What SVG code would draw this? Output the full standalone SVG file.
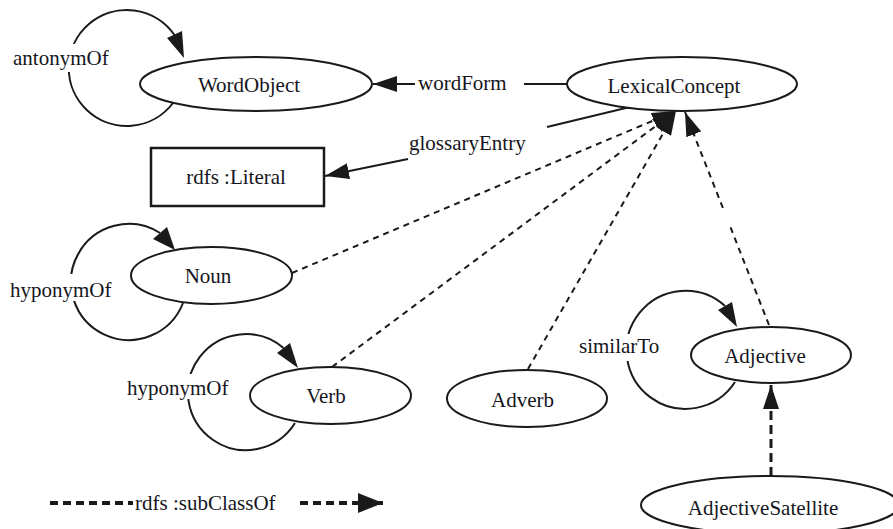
<svg xmlns="http://www.w3.org/2000/svg" width="893" height="529" viewBox="0 0 893 529">
<style>
  text { font-family: "Liberation Serif", "DejaVu Serif", serif; font-size: 21px; fill: #151520; }
  .n { text-anchor: middle; }
  .shape { fill: #fff; stroke: #1a1a1a; stroke-width: 2; }
  .edge { fill: none; stroke: #1a1a1a; stroke-width: 2; }
  .sub { fill: none; stroke: #1a1a1a; stroke-width: 2; stroke-dasharray: 6 5; }
  .sub2 { fill: none; stroke: #1a1a1a; stroke-width: 3; stroke-dasharray: 9 5; }
  .head { fill: #1a1a1a; stroke: none; }
  .bg { fill: #fff; stroke: none; }
</style>
<defs>
  <marker id="arr" markerUnits="userSpaceOnUse" markerWidth="26" markerHeight="18" refX="24" refY="8" orient="auto">
    <path d="M0,0 L24,8 L0,16 Z" class="head"/>
  </marker>
  <marker id="arrL" markerUnits="userSpaceOnUse" markerWidth="27" markerHeight="22" refX="25" refY="10" orient="auto">
    <path d="M0,0 L25,10 L0,20 Z" class="head"/>
  </marker>
</defs>
<rect width="893" height="529" fill="#fff"/>

<g id="connectors">
  <path class="edge" d="M173,103 A58,58 0 1 1 174.5,35"/>
  <polygon class="head" points="167,38 182,31 184,58"/>
  <path class="edge" d="M183,303 A58,58 0 1 1 160,233"/>
  <polygon class="head" points="153,239 167,227 175,250"/>
  <path class="edge" d="M295,423 A58,58 0 1 1 283.5,348"/>
  <polygon class="head" points="277,353 290,343 298,368"/>
  <path class="edge" d="M735,382 A59,59 0 1 1 725,306"/>
  <polygon class="head" points="718,310 732,302 737,327"/>
  <line class="edge" x1="568" y1="84" x2="524" y2="84"/>
  <line class="edge" x1="415" y1="84" x2="373" y2="84" marker-end="url(#arr)"/>
  <line class="edge" x1="630" y1="107" x2="547" y2="127"/>
  <line class="edge" x1="408" y1="159" x2="325" y2="176" marker-end="url(#arr)"/>
  <line class="sub" x1="292" y1="273" x2="676" y2="111" marker-end="url(#arr)"/>
  <line class="sub" x1="332" y1="367" x2="676" y2="111" marker-end="url(#arr)"/>
  <line class="sub" x1="528" y1="369" x2="676" y2="111" marker-end="url(#arr)"/>
  <line class="sub" x1="769" y1="325" x2="730.4" y2="227"/>
  <line class="sub" x1="722.9" y1="208" x2="685" y2="112" marker-end="url(#arr)"/>
  <line class="sub2" x1="771" y1="476" x2="771" y2="385" marker-end="url(#arr)"/>
</g>

<g id="labels">
  <rect class="bg" x="12" y="44" width="104" height="28"/>
  <text x="13" y="65">antonymOf</text>
  <rect class="bg" x="9" y="274" width="109" height="27"/>
  <text x="10" y="297">hyponymOf</text>
  <rect class="bg" x="126" y="374" width="108" height="25"/>
  <text x="127" y="395">hyponymOf</text>
  <rect class="bg" x="578" y="334" width="88" height="27"/>
  <text x="579" y="353">similarTo</text>
  <text x="418" y="90">wordForm</text>
  <text x="409" y="150">glossaryEntry</text>
</g>

<g id="WordObject">
  <ellipse class="shape" cx="256" cy="84" rx="116" ry="27"/>
  <text class="n" x="249" y="92">WordObject</text>
</g>
<g id="LexicalConcept">
  <ellipse class="shape" cx="682" cy="84" rx="115" ry="27"/>
  <text class="n" x="674" y="93">LexicalConcept</text>
</g>
<g id="rdfsLiteral">
  <rect class="shape" x="151" y="148" width="173" height="58" style="stroke-width:2.5"/>
  <text class="n" x="236" y="184">rdfs :Literal</text>
</g>
<g id="Noun">
  <ellipse class="shape" cx="211.5" cy="275.5" rx="80.5" ry="28.5"/>
  <text class="n" x="208" y="283">Noun</text>
</g>
<g id="Verb">
  <ellipse class="shape" cx="330.5" cy="395.5" rx="80.5" ry="28.5"/>
  <text class="n" x="326" y="403">Verb</text>
</g>
<g id="Adverb">
  <ellipse class="shape" cx="527" cy="398.5" rx="80" ry="28.5"/>
  <text class="n" x="522.5" y="407">Adverb</text>
</g>
<g id="Adjective">
  <ellipse class="shape" cx="771" cy="355" rx="80" ry="28"/>
  <text class="n" x="765" y="363">Adjective</text>
</g>
<g id="AdjectiveSatellite">
  <ellipse class="shape" cx="770" cy="505" rx="129" ry="29"/>
  <text class="n" x="763" y="515">AdjectiveSatellite</text>
</g>

<g id="legend">
  <line x1="50" y1="503" x2="133" y2="503" style="fill:none;stroke:#1a1a1a;stroke-width:4;stroke-dasharray:8 5"/>
  <text x="135" y="510">rdfs :subClassOf</text>
  <line x1="300" y1="503" x2="383" y2="503" style="fill:none;stroke:#1a1a1a;stroke-width:4;stroke-dasharray:8 5" marker-end="url(#arrL)"/>
</g>
</svg>
